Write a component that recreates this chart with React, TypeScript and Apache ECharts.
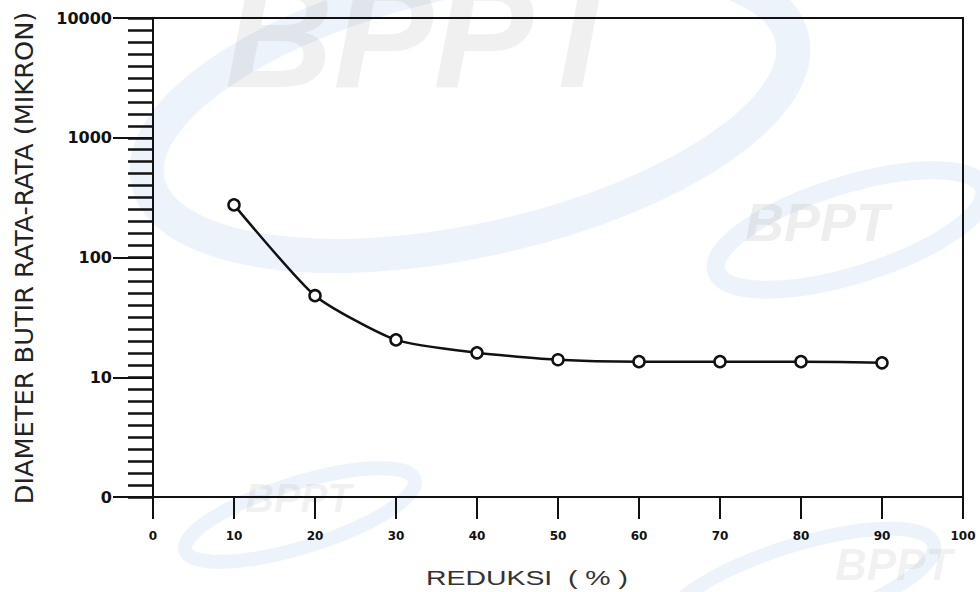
import React, { useEffect, useRef } from "react";
import * as echarts from "echarts";

const reduksi = [10, 20, 30, 40, 50, 60, 70, 80, 90];
const diameter = [275, 48, 20.5, 16, 14, 13.5, 13.5, 13.5, 13.2];
const xTicks = [0, 10, 20, 30, 40, 50, 60, 70, 80, 90, 100];
const yTickText: Record<number, string> = { 1: "0", 10: "10", 100: "100", 1000: "1000", 10000: "10000" };
const yTitle = "DIAMETER BUTIR RATA-RATA (MIKRON)";
const xTitle = "REDUKSI  ( % )";

export default function App() {
  const ref = useRef<HTMLDivElement>(null);
  useEffect(() => {
    if (!ref.current) return;
    const chart = echarts.init(ref.current, undefined, { renderer: "svg" });
    const wm = (x: number, y: number, size: number, op: number) => ({
      type: "text",
      x,
      y,
      z: -10,
      silent: true,
      style: {
        text: "BPPT",
        fontSize: size,
        fontWeight: "bold",
        fontStyle: "italic",
        fontFamily: "Liberation Sans, sans-serif",
        fill: "rgba(150,150,150," + op + ")",
      },
    });
    const swoosh = (x: number, y: number, rot: number, rx: number, ry: number, w: number) => ({
      type: "ellipse",
      z: -20,
      silent: true,
      x,
      y,
      rotation: rot,
      shape: { cx: 0, cy: 0, rx, ry },
      style: { fill: "none", stroke: "rgba(120,170,220,0.14)", lineWidth: w },
    });
    chart.setOption({
      animation: false,
      backgroundColor: "#ffffff",
      grid: {
        left: 153,
        right: 17,
        top: 18,
        bottom: 95,
        show: true,
        borderColor: "#111",
        borderWidth: 2,
        backgroundColor: "transparent",
        containLabel: false,
      },
      graphic: [
        swoosh(470, 110, 0.22, 330, 130, 34),
        swoosh(850, 230, 0.3, 140, 45, 18),
        swoosh(300, 515, 0.3, 120, 32, 14),
        swoosh(800, 585, 0.3, 140, 40, 14),
        wm(225, -40, 150, 0.14),
        wm(745, 195, 54, 0.16),
        wm(245, 478, 40, 0.13),
        wm(835, 542, 44, 0.13),
        {
          type: "text",
          x: 24,
          y: 258,
          rotation: Math.PI / 2,
          scaleX: 1.14,
          scaleY: 1,
          style: {
            text: yTitle,
            fontSize: 25,
            fontFamily: '"DejaVu Sans Condensed", "Liberation Sans Narrow", "DejaVu Sans", sans-serif',
            fill: "#222",
            align: "center",
            verticalAlign: "middle",
          },
        },
        {
          type: "text",
          x: 527,
          y: 578,
          scaleX: 1.42,
          scaleY: 1,
          style: {
            text: xTitle,
            fontSize: 20,
            fontFamily: '"Liberation Sans", sans-serif',
            fill: "#333",
            align: "center",
            verticalAlign: "middle",
          },
        },
      ],
      xAxis: {
        type: "value",
        min: 0,
        max: 100,
        interval: 10,
        axisLine: { show: true, lineStyle: { color: "#111", width: 2 } },
        axisTick: { show: true, length: 22, lineStyle: { color: "#111", width: 2 } },
        axisLabel: {
          margin: 33,
          fontSize: 12,
          fontWeight: "bold",
          color: "#111",
          fontFamily: '"DejaVu Sans", sans-serif',
          formatter: (v: number) => (xTicks.includes(v) ? String(v) : ""),
        },
        splitLine: { show: false },
      },
      yAxis: [
        {
          type: "log",
          logBase: 10,
          min: 1,
          max: 10000,
          position: "left",
          axisLine: { show: true, lineStyle: { color: "#111", width: 2 } },
          axisTick: { show: true, length: 40, lineStyle: { color: "#111", width: 2 } },
          axisLabel: {
            margin: 41,
            fontSize: 16,
            fontWeight: "bold",
            color: "#111",
            fontFamily: '"DejaVu Sans", sans-serif',
            formatter: (v: number) => yTickText[Math.round(v)] ?? "",
          },
          splitLine: { show: false },
        },
        {
          type: "value",
          min: 0,
          max: 40,
          interval: 1,
          position: "left",
          axisLine: { show: false },
          axisTick: { show: true, length: 25, lineStyle: { color: "#111", width: 2.5 } },
          axisLabel: { show: false },
          splitLine: { show: false },
        },
      ],
      series: [
        {
          type: "line",
          yAxisIndex: 0,
          data: reduksi.map((x, i) => [x, diameter[i]]),
          smooth: 0.2,
          symbol: "circle",
          symbolSize: 11,
          showSymbol: true,
          lineStyle: { color: "#111", width: 2.5 },
          itemStyle: { color: "#ffffff", borderColor: "#111", borderWidth: 2.5 },
        },
      ],
    });
    return () => chart.dispose();
  }, []);
  return (
    <div
      ref={ref}
      style={{ position: "absolute", left: 0, top: 0, width: 980, height: 592, overflow: "hidden" }}
    />
  );
}
